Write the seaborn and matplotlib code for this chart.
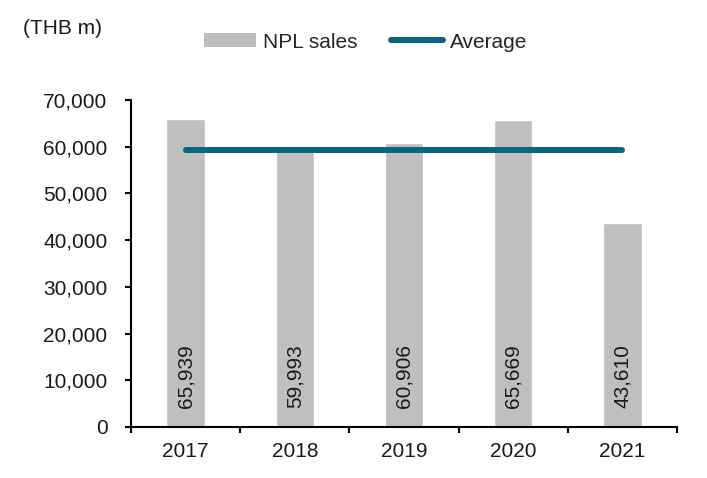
import matplotlib
matplotlib.use("Agg")
import matplotlib.pyplot as plt
import seaborn as sns
import pandas as pd
from matplotlib.ticker import FuncFormatter, FixedLocator
from matplotlib.patches import Patch
from matplotlib.lines import Line2D

years = ["2017", "2018", "2019", "2020", "2021"]
npl_sales = [65939, 59993, 60906, 65669, 43610]
average = [59223, 59223, 59223, 59223, 59223]

sns.set_theme(style="white")
plt.rcParams["font.family"] = ["Liberation Sans", "DejaVu Sans"]

FS = 15
fig = plt.figure(figsize=(7.07, 4.78), dpi=100)
ax = fig.add_axes([0.1853, 0.1067, 0.7723, 0.684])

df = pd.DataFrame({"year": years, "sales": npl_sales, "avg": average, "pos": range(len(years))})
sns.barplot(data=df, x="year", y="sales", color="#BFBFBF", width=0.35, saturation=1, ax=ax)
sns.lineplot(data=df, x="pos", y="avg", color="#0A6580", linewidth=4.3, ax=ax,
             solid_capstyle="round")

for i, v in enumerate(npl_sales):
    ax.annotate(f"{v:,}", xy=(i, 0), xytext=(0, 14), textcoords="offset points",
                rotation=90, ha="center", va="bottom", fontsize=FS, color="#1a1a1a")

ax.set_ylim(0, 70000)
ax.set_xlim(-0.5, 4.5)
ax.set_yticks(range(0, 70001, 10000))
ax.yaxis.set_major_formatter(FuncFormatter(lambda v, p: f"{int(v):,}"))
ax.set_xlabel("")
ax.set_ylabel("")

for s in ["top", "right"]:
    ax.spines[s].set_visible(False)
for s in ["left", "bottom"]:
    ax.spines[s].set_color("black")
    ax.spines[s].set_linewidth(1.5)

ax.tick_params(axis="y", which="major", direction="out", length=4, width=1.5,
               color="black", labelsize=FS, pad=13, left=True)
ax.tick_params(axis="x", which="major", length=0, labelsize=FS, pad=11)
ax.xaxis.set_minor_locator(FixedLocator([-0.5, 0.5, 1.5, 2.5, 3.5, 4.5]))
ax.tick_params(axis="x", which="minor", direction="out", length=4, width=1.5,
               color="black", bottom=True)
for lab in ax.get_xticklabels() + ax.get_yticklabels():
    lab.set_color("#1a1a1a")

handles = [Patch(facecolor="#BFBFBF", edgecolor="none", label="NPL sales"),
           Line2D([0], [0], color="#0A6580", linewidth=4.3, solid_capstyle="round", label="Average")]
fig.legend(handles=handles, loc="center", bbox_to_anchor=(0.517, 0.912), ncol=2,
           frameon=False, fontsize=FS, handlelength=2.5, handletextpad=0.34,
           columnspacing=1.6, handleheight=0.65, borderpad=0)

fig.text(0.033, 0.941, "(THB m)", fontsize=FS, ha="left", va="center", color="#1a1a1a")

fig.savefig("out.png", dpi=100)
